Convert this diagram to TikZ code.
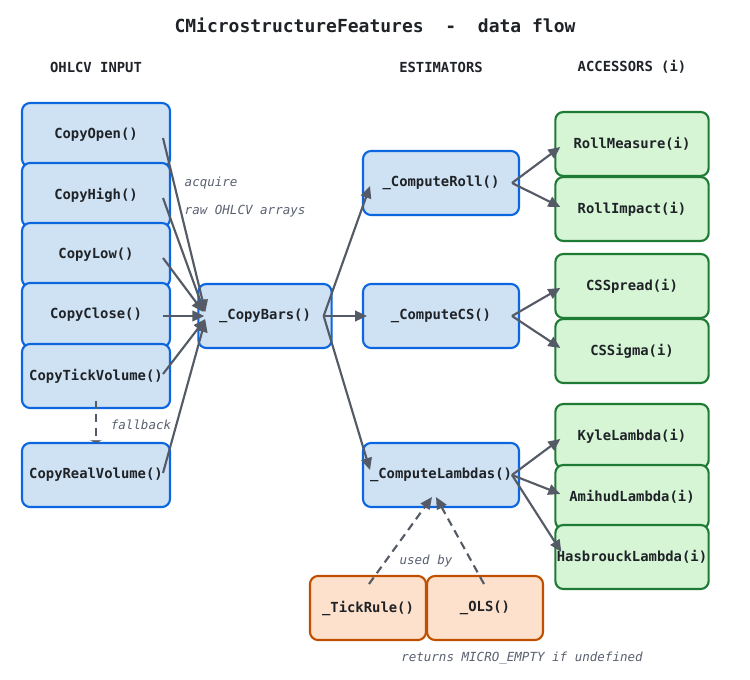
\documentclass[tikz,border=0pt]{standalone}
\usepackage{fontspec}
\setmonofont{DejaVu Sans Mono}
\usetikzlibrary{arrows.meta,calc}
\definecolor{bluefill}{HTML}{CFE2F3}
\definecolor{blueline}{HTML}{0B66E0}
\definecolor{greenfill}{HTML}{D5F5D5}
\definecolor{greenline}{HTML}{1E7B34}
\definecolor{orangefill}{HTML}{FDE1CC}
\definecolor{orangeline}{HTML}{C05000}
\definecolor{arrowcol}{HTML}{555B66}
\definecolor{textcol}{HTML}{1F2328}
\definecolor{notecol}{HTML}{5A6070}
\begin{document}
\begin{tikzpicture}[x=0.75pt,y=-0.75pt,
  box/.style={rounded corners=6pt,line width=1.6pt,inner sep=0pt,outer sep=0pt,
    minimum height=48pt,text=textcol,font=\ttfamily\bfseries\fontsize{10.4}{12}\selectfont},
  inbox/.style={box,draw=blueline,fill=bluefill,minimum width=111pt},
  estbox/.style={box,draw=blueline,fill=bluefill,minimum width=117pt},
  accbox/.style={box,draw=greenline,fill=greenfill,minimum width=115pt},
  helpbox/.style={box,draw=orangeline,fill=orangefill,minimum width=87pt},
  head/.style={text=textcol,font=\ttfamily\bfseries\fontsize{10.4}{12}\selectfont},
  note/.style={text=notecol,font=\ttfamily\itshape\fontsize{9.4}{11}\selectfont},
  flow/.style={draw=arrowcol,line width=1.6pt,-{Triangle[length=9pt,width=8pt]}},
  dflow/.style={flow,dash pattern=on 6pt off 4pt},
]
\useasboundingbox (0,0) rectangle (750,680);
\node[text=textcol,font=\ttfamily\bfseries\fontsize{13.5}{16}\selectfont] (title) at (375,25) {CMicrostructureFeatures\ \ -\ \ data flow};
\node[head] (h1) at (96,67) {OHLCV INPUT};
\node[head] (h2) at (441,67) {ESTIMATORS};
\node[head] (h3) at (632,67) {ACCESSORS (i)};

\node[inbox] (open) at (96,135) {CopyOpen()};
\node[inbox] (high) at (96,195) {CopyHigh()};
\node[inbox] (low) at (96,255) {CopyLow()};
\node[inbox] (close) at (96,315) {CopyClose()};
\node[inbox] (tick) at (96,376) {CopyTickVolume()};
\node[inbox] (real) at (96,475) {CopyRealVolume()};

\node[box,draw=blueline,fill=bluefill,minimum width=100pt] (bars) at (265,316) {\_CopyBars()};

\node[estbox] (roll) at (441,183) {\_ComputeRoll()};
\node[estbox] (cs) at (441,316) {\_ComputeCS()};
\node[estbox] (lam) at (441,475) {\_ComputeLambdas()};

\node[accbox] (rm) at (632,144) {RollMeasure(i)};
\node[accbox] (ri) at (632,209) {RollImpact(i)};
\node[accbox] (css) at (632,286) {CSSpread(i)};
\node[accbox] (csg) at (632,351) {CSSigma(i)};
\node[accbox] (kyle) at (632,436) {KyleLambda(i)};
\node[accbox] (ami) at (632,497) {AmihudLambda(i)};
\node[accbox] (has) at (632,557) {HasbrouckLambda(i)};

\node[helpbox] (tr) at (368,608) {\_TickRule()};
\node[helpbox] (ols) at (485,608) {\_OLS()};

% notes
\node[note,anchor=west] (n1) at (180,183) {acquire};
\node[note,anchor=west] (n2) at (180,211) {raw OHLCV arrays};
\node[note] (n3) at (141,425) {fallback};
\node[note] (n4) at (426,561) {used by};
\node[note] (n5) at (522,658) {returns MICRO\_EMPTY if undefined};

% inputs -> bars
\draw[flow] ($(open.east)+(-7,3)$) -- ($(bars.west)+(7,-4)$);
\draw[flow] ($(high.east)+(-7,3)$) -- ($(bars.west)+(6,-4)$);
\draw[flow] ($(low.east)+(-7,3)$) -- ($(bars.west)+(5,-4)$);
\draw[flow] ($(close.east)+(-7,1)$) -- ($(bars.west)+(6,0)$);
\draw[flow] ($(tick.east)+(-7,-2)$) -- ($(bars.west)+(7,3)$);
\draw[flow] ($(real.east)+(-7,-2)$) -- ($(bars.west)+(7,4)$);
\draw[dflow,-{Triangle[length=2pt,width=9pt]}] ($(tick.south)+(0,-7)$) -- (real.north);

% bars -> estimators
\draw[flow] ($(bars.east)+(-8,0)$) -- ($(roll.west)+(7,3)$);
\draw[flow] ($(bars.east)+(-8,0)$) -- ($(cs.west)+(4,0)$);
\draw[flow] ($(bars.east)+(-8,0)$) -- ($(lam.west)+(7,-5)$);

% estimators -> accessors
\draw[flow] ($(roll.east)+(-7,0)$) -- ($(rm.west)+(5,3)$);
\draw[flow] ($(roll.east)+(-7,0)$) -- ($(ri.west)+(5,-2)$);
\draw[flow] ($(cs.east)+(-7,0)$) -- ($(css.west)+(5,2)$);
\draw[flow] ($(cs.east)+(-7,0)$) -- ($(csg.west)+(5,-3)$);
\draw[flow] ($(lam.east)+(-7,0)$) -- ($(kyle.west)+(5,3)$);
\draw[flow] ($(lam.east)+(-7,0)$) -- ($(ami.west)+(5,-3)$);
\draw[flow] ($(lam.east)+(-7,0)$) -- ($(has.west)+(6,-5)$);

% helpers -> lambdas
\draw[dflow] ($(tr.north)+(1,8)$) -- ($(lam.south)+(-9,-10)$);
\draw[dflow] ($(ols.north)+(-1,8)$) -- ($(lam.south)+(-5,-10)$);
\end{tikzpicture}
\end{document}
